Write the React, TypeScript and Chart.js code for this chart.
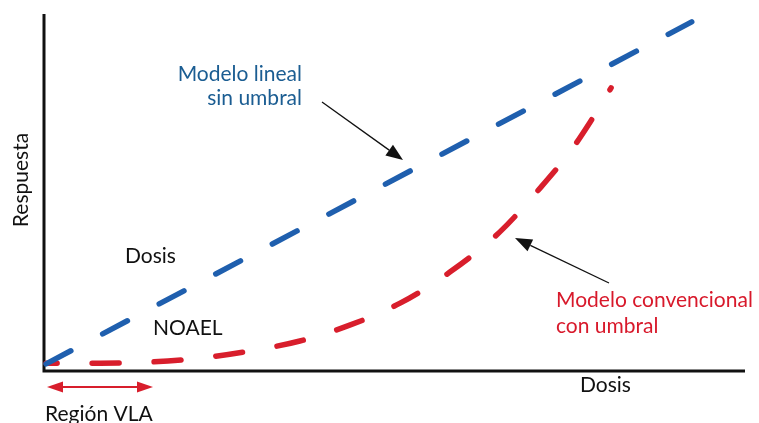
import React, { useEffect, useRef } from "react";
import { Chart, registerables } from "chart.js";

Chart.register(...registerables);

// Dose (0-100 % of axis) and response (0-100 % of axis)
const linearDose = [0.3, 92.4];
const linearResponse = [2.0, 97.8];
const thresholdDose = [0.3, 8.0, 15.1, 22.3, 29.4, 36.5, 43.7, 50.8, 57.9, 65.0, 70.8, 75.0, 77.9, 80.9];
const thresholdResponse = [2.2, 2.2, 2.5, 3.6, 5.6, 8.4, 12.9, 19.0, 27.7, 38.9, 51.3, 61.3, 69.7, 79.3];

const seriesNames = ["Modelo lineal sin umbral", "Modelo convencional con umbral"];
const xAxisTitle = "Dosis";
const yAxisTitle = "Respuesta";

const BLUE = "#1f5fae";
const RED = "#d81e2c";
const BLUE_TEXT = "#1b5d92";
const RED_TEXT = "#d8192b";
const FONT = "Lato, 'Open Sans', sans-serif";

function arrow(ctx: CanvasRenderingContext2D, x1: number, y1: number, x2: number, y2: number, color: string, lw: number, hl: number, hw: number) {
  const a = Math.atan2(y2 - y1, x2 - x1);
  const bx = x2 - hl * Math.cos(a);
  const by = y2 - hl * Math.sin(a);
  ctx.save();
  ctx.strokeStyle = color;
  ctx.fillStyle = color;
  ctx.lineWidth = lw;
  ctx.beginPath();
  ctx.moveTo(x1, y1);
  ctx.lineTo(bx, by);
  ctx.stroke();
  ctx.beginPath();
  ctx.moveTo(x2, y2);
  ctx.lineTo(bx + hw * Math.sin(a), by - hw * Math.cos(a));
  ctx.lineTo(bx - hw * Math.sin(a), by + hw * Math.cos(a));
  ctx.closePath();
  ctx.fill();
  ctx.restore();
}

const axesPlugin = {
  id: "axesDraw",
  beforeDatasetsDraw(chart: any) {
    const { ctx, chartArea } = chart;
    ctx.save();
    ctx.strokeStyle = "#111";
    ctx.lineWidth = 3;
    ctx.lineCap = "butt";
    ctx.beginPath();
    ctx.moveTo(chartArea.left, chartArea.top);
    ctx.lineTo(chartArea.left, chartArea.bottom);
    ctx.lineTo(chartArea.right, chartArea.bottom);
    ctx.stroke();
    ctx.restore();
  },
  afterDatasetsDraw(chart: any) {
    const { ctx } = chart;
    ctx.save();
    ctx.font = `21px ${FONT}`;
    ctx.textBaseline = "alphabetic";
    // Blue label
    ctx.fillStyle = BLUE_TEXT;
    ctx.textAlign = "right";
    ctx.fillText("Modelo lineal", 302, 81);
    ctx.fillText("sin umbral", 302, 105);
    // Red label
    ctx.fillStyle = RED_TEXT;
    ctx.textAlign = "left";
    ctx.fillText("Modelo convencional", 556, 307);
    ctx.fillText("con umbral", 556, 333);
    // Black labels
    ctx.fillStyle = "#111";
    ctx.fillText("Dosis", 125, 263);
    ctx.fillText("NOAEL", 153, 335);
    ctx.fillText(xAxisTitle, 580, 392);
    ctx.fillText("Región VLA", 45, 421);
    ctx.save();
    ctx.translate(28, 180);
    ctx.rotate(-Math.PI / 2);
    ctx.textAlign = "center";
    ctx.fillText(yAxisTitle, 0, 0);
    ctx.restore();
    ctx.restore();
    arrow(ctx, 322, 102, 403, 160, "#111", 1.3, 17, 6.5);
    arrow(ctx, 609, 283, 515, 238, "#111", 1.3, 17, 6.5);
    // Región VLA double arrow
    arrow(ctx, 100, 387, 153, 387, RED, 2, 16, 5.5);
    arrow(ctx, 101, 387, 47, 387, RED, 2, 16, 5.5);
  },
};

export default function App() {
  const ref = useRef<HTMLCanvasElement | null>(null);
  useEffect(() => {
    document.body.style.margin = "0";
    const canvas = ref.current!;
    const chart = new Chart(canvas, {
      type: "line",
      data: {
        datasets: [
          {
            label: seriesNames[0],
            data: linearDose.map((x, i) => ({ x, y: linearResponse[i] })),
            borderColor: BLUE,
            borderWidth: 5.5,
            borderDash: [28, 36],
            borderCapStyle: "round",
            pointRadius: 0,
            tension: 0,
            fill: false,
            clip: false as any,
          },
          {
            label: seriesNames[1],
            data: thresholdDose.map((x, i) => ({ x, y: thresholdResponse[i] })),
            borderColor: RED,
            borderWidth: 5.5,
            borderDash: [27, 35],
            borderDashOffset: 16,
            borderCapStyle: "round",
            pointRadius: 0,
            cubicInterpolationMode: "monotone",
            fill: false,
            clip: false as any,
          },
        ],
      },
      options: {
        animation: false,
        responsive: true,
        maintainAspectRatio: false,
        layout: { padding: { left: 44, top: 14, right: 14, bottom: 52 } },
        plugins: { legend: { display: false }, tooltip: { enabled: false } },
        scales: {
          x: { type: "linear", min: 0, max: 100, display: false },
          y: { type: "linear", min: 0, max: 100, display: false },
        },
      },
      plugins: [axesPlugin],
    });
    return () => chart.destroy();
  }, []);
  return (
    <div style={{ position: "fixed", left: 0, top: 0, width: 759, height: 423, background: "#fff" }}>
      <canvas ref={ref} />
    </div>
  );
}
